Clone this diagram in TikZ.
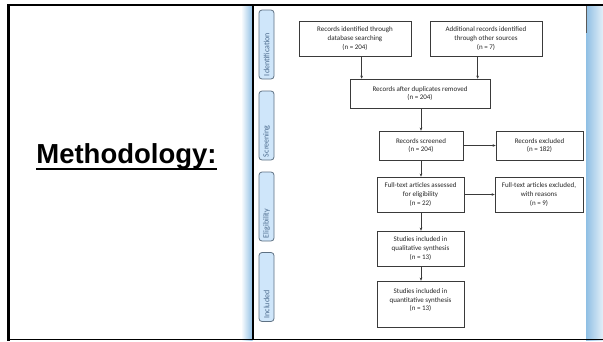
\documentclass[tikz,border=0pt]{standalone}
\usepackage{fontspec}
\setmainfont{Carlito}
\newfontfamily\arialf{Liberation Sans}
\usetikzlibrary{arrows.meta,calc}
\definecolor{labfill}{HTML}{CFE6FA}
\definecolor{labdraw}{HTML}{5E7183}
\definecolor{labtext}{HTML}{4D6C8E}
\definecolor{stripblue}{HTML}{8FBFE4}
\definecolor{boxline}{HTML}{3A3A3A}
\begin{document}
\begin{tikzpicture}[x=1pt,y=-1pt,
 box/.style={draw=boxline, line width=0.7pt, fill=white, align=center, inner sep=0pt,
   font=\fontsize{7}{8.7}\selectfont, text=black!85},
 phase/.style={draw=labdraw, line width=0.8pt, fill=labfill, rounded corners=3pt, rotate=90,
   minimum width=69pt, minimum height=15pt, inner xsep=3pt, inner ysep=0pt, text width=63pt,
   align=left, font=\fontsize{8}{9}\selectfont, text=labtext},
 arr/.style={draw=boxline, line width=0.6pt, -{Stealth[length=3pt,width=2.6pt]}}]
\useasboundingbox (0,0) rectangle (603,341);
\fill[white] (0,0) rectangle (603,341);
% strips
\shade[left color=white, right color=stripblue] (241,5) rectangle (252.5,340);
\shade[left color=stripblue, right color=stripblue!25] (586,5) rectangle (603,340);
\draw[line width=1.6pt] (253.2,5) -- (253.2,340);
\draw[line width=0.8pt, black!65] (586.4,5) -- (586.4,33);
% frame
\draw[line width=2.5pt] (7,5) -- (603,5);
\draw[line width=3pt] (8.5,4) -- (8.5,340.5);
\draw[line width=1.4pt] (7,339.6) -- (603,339.6);
% title
\node[anchor=base, inner sep=0pt, font=\arialf\bfseries\fontsize{27.5}{30}\selectfont] (meth) at (126.5,163) {Methodology:};
\draw[line width=2pt] ([yshift=-6pt]meth.base west) -- ([yshift=-6pt]meth.base east);
% phase labels
\node[phase] (p1) at (266.5,44.5) {Identification};
\node[phase] (p2) at (266.5,125.5) {Screening};
\node[phase] (p3) at (266.5,206.5) {Eligibility};
\node[phase] (p4) at (266.5,287) {Included};
% boxes
\node[box, minimum width=112pt, minimum height=35pt] (b1) at (355,38.5) {Records identified through\\database searching\\(n = 204)};
\node[box, minimum width=112pt, minimum height=35pt] (b2) at (486,38.5) {Additional records identified\\through other sources\\(n = 7)};
\node[box, minimum width=140pt, minimum height=29pt] (b3) at (420,93.5) {Records after duplicates removed\\(n = 204)};
\node[box, minimum width=84pt, minimum height=29pt] (b4) at (421,145.5) {Records screened\\(n = 204)};
\node[box, minimum width=87pt, minimum height=29pt] (b5) at (539.5,145.5) {Records excluded\\(n = 182)};
\node[box, minimum width=87pt, minimum height=35pt] (b6) at (420.5,194.5) {Full-text articles assessed\\for eligibility\\(n = 22)};
\node[box, minimum width=88pt, minimum height=35pt] (b7) at (539,194.5) {Full-text articles excluded,\\with reasons\\(n = 9)};
\node[box, minimum width=87pt, minimum height=35pt] (b8) at (420.5,248.5) {Studies included in\\qualitative synthesis\\(n = 13)};
\node[box, minimum width=87pt, minimum height=46pt] (b9) at (420.5,304) {Studies included in\\quantitative synthesis\\(n = 13)\\\mbox{}};
% arrows
\draw[arr] ([xshift=63pt]b1.south west) -- ([xshift=63pt]b1.south west |- b3.north);
\draw[arr] ([xshift=48pt]b2.south west) -- ([xshift=48pt]b2.south west |- b3.north);
\draw[arr] (b4.north |- b3.south) -- (b4.north);
\draw[arr] (b4.south) -- (b4.south |- b6.north);
\draw[arr] (b4.south |- b6.south) -- (b4.south |- b8.north);
\draw[arr] (b4.south |- b8.south) -- (b4.south |- b9.north);
\draw[arr] (b4.east) -- (b5.west);
\draw[arr] (b6.east) -- (b7.west);
\end{tikzpicture}
\end{document}
